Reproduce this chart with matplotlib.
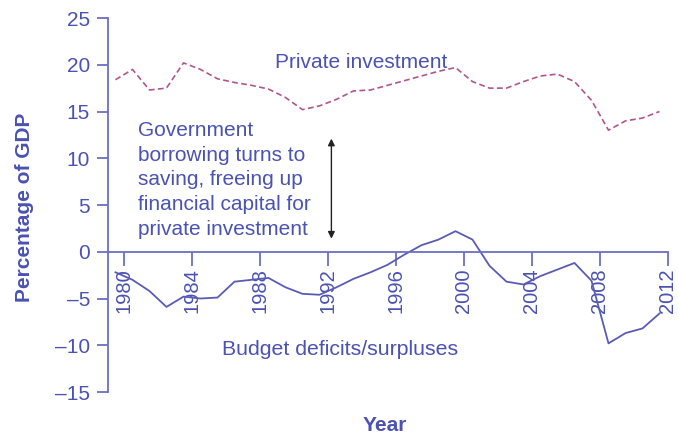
import matplotlib
matplotlib.use("Agg")
import matplotlib.pyplot as plt
import numpy as np

plt.rcParams['font.family'] = ['Liberation Sans', 'DejaVu Sans']

years = list(range(1980, 2013))
private_investment = [18.4, 19.5, 17.3, 17.5, 20.2, 19.5, 18.5, 18.1, 17.8, 17.4,
                      16.5, 15.2, 15.6, 16.3, 17.2, 17.3, 17.8, 18.3, 18.8, 19.3,
                      19.7, 18.2, 17.5, 17.5, 18.2, 18.8, 19.0, 18.2, 16.2, 13.0,
                      14.0, 14.3, 15.0]
budget_balance = [-2.2, -3.0, -4.2, -5.9, -4.8, -5.0, -4.9, -3.2, -3.0, -2.8,
                  -3.8, -4.5, -4.6, -3.8, -2.9, -2.2, -1.4, -0.3, 0.7, 1.3,
                  2.2, 1.3, -1.5, -3.2, -3.5, -2.6, -1.9, -1.2, -3.1, -9.8,
                  -8.7, -8.2, -6.6]
x_ticks = [1980, 1984, 1988, 1992, 1996, 2000, 2004, 2008, 2012]
y_ticks = [-15, -10, -5, 0, 5, 10, 15, 20, 25]

TXT = '#4a52b2'
AX = '#6b70c2'
LINE = '#5a5cb4'
DASH = '#b0568c'

fig = plt.figure(figsize=(6.78, 4.36), dpi=100)
ax = fig.add_axes([108/678, 1-392/436, (668-108)/678, (392-18)/436])

xpos = np.array(years) - 0.5
ax.plot(xpos, private_investment, color=DASH, lw=1.2, ls=(0, (3.5, 2)))
ax.plot(xpos, budget_balance, color=LINE, lw=1.3)

ax.set_xlim(1979.06, 2012)
ax.set_ylim(-15, 25)

ax.spines['top'].set_visible(False)
ax.spines['right'].set_visible(False)
ax.spines['bottom'].set_position(('data', 0))
for s in ('left', 'bottom'):
    ax.spines[s].set_color(AX)
    ax.spines[s].set_linewidth(1.3)

ax.set_xticks(x_ticks)
ax.set_xticklabels([str(t) for t in x_ticks], rotation=90, fontsize=14.5, color=TXT)
ax.set_yticks(y_ticks)
ax.set_yticklabels([str(t).replace('-', '\u2013') for t in y_ticks], fontsize=15, color=TXT)
ax.tick_params(axis='x', direction='out', length=10, width=1.3, color=AX, pad=2)
ax.tick_params(axis='y', direction='out', length=8, width=1.3, color=AX, pad=5)

ax.text(1988.9, 20.2, 'Private investment', fontsize=15, color=TXT, va='center', ha='left')
ax.text(1980.8, 14.0, 'Government\nborrowing turns to\nsaving, freeing up\nfinancial capital for\nprivate investment',
        fontsize=15, color=TXT, va='top', ha='left', linespacing=1.38)
ax.text(1985.75, -10.5, 'Budget deficits/surpluses', fontsize=15.3, color=TXT, va='center', ha='left')

ax.annotate('', xy=(1992.2, 12.1), xytext=(1992.2, 1.4),
            arrowprops=dict(arrowstyle='<|-|>', color='#222222', lw=1.0,
                            mutation_scale=10, shrinkA=0, shrinkB=0))

fig.text(25/678, 1-207/436, 'Percentage of GDP', rotation=90, fontsize=15,
         fontweight='bold', color=TXT, ha='center', va='center')
fig.text(385/678, 1-425/436, 'Year', fontsize=15, fontweight='bold', color=TXT,
         ha='center', va='center')

fig.savefig('out.png', dpi=100)
